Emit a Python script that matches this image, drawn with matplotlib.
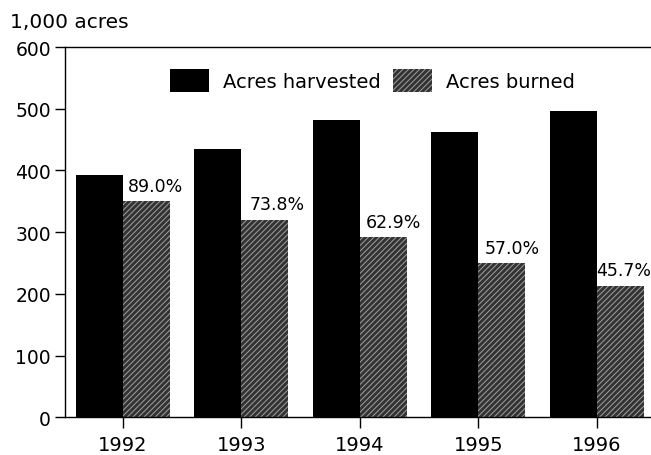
import matplotlib
matplotlib.use('Agg')
import matplotlib.pyplot as plt
import numpy as np

plt.rcParams['font.family'] = ['DejaVu Sans']
plt.rcParams['hatch.linewidth'] = 0.7

# Data
years = ['1992', '1993', '1994', '1995', '1996']
harvested = [393, 435, 482, 462, 496]
burned = [350, 320, 292, 250, 213]
pct_labels = ['89.0%', '73.8%', '62.9%', '57.0%', '45.7%']

fig = plt.figure(figsize=(6.51, 4.56), dpi=100)
ax = fig.add_axes([0.0998, 0.0827, 0.9002, 0.812])

x = np.arange(len(years))
w = 0.397

ax.bar(x - w / 2, harvested, width=w, color='black', edgecolor='black',
       linewidth=0, label='Acres harvested')
ax.bar(x + w / 2, burned, width=w, color='#333333', edgecolor='#a0a0a0',
       linewidth=0, hatch='//////', label='Acres burned')

# percentage labels just above the burned bars, starting near their left edge
dx = [0.042, 0.07, 0.05, 0.05, -0.01]
for i in range(len(years)):
    ax.text(x[i] + dx[i], burned[i] + 17, pct_labels[i],
            ha='left', va='baseline', fontsize=12.5, clip_on=False)

ax.set_xlim(-0.489, 4.456)
ax.set_ylim(0, 600)
ax.set_yticks([0, 100, 200, 300, 400, 500, 600])
ax.set_xticks(x)
ax.set_xticklabels(years)
ax.tick_params(axis='y', labelsize=13.5, direction='out', length=7,
               width=1, pad=3)
ax.tick_params(axis='x', labelsize=14, direction='out', length=8,
               width=1, pad=5)

ax.spines['right'].set_visible(False)
for s in ['left', 'bottom', 'top']:
    ax.spines[s].set_linewidth(1.0)

ax.legend(loc='upper left', bbox_to_anchor=(0.179, 0.94), ncol=2,
          frameon=False, fontsize=14, handlelength=2.0, handleheight=1.4,
          handletextpad=0.75, columnspacing=0.6, borderpad=0, borderaxespad=0)

fig.text(0.015, (456 - 28) / 456, '1,000 acres', ha='left', va='baseline',
         fontsize=14.5)

plt.savefig('out.png', dpi=100)
